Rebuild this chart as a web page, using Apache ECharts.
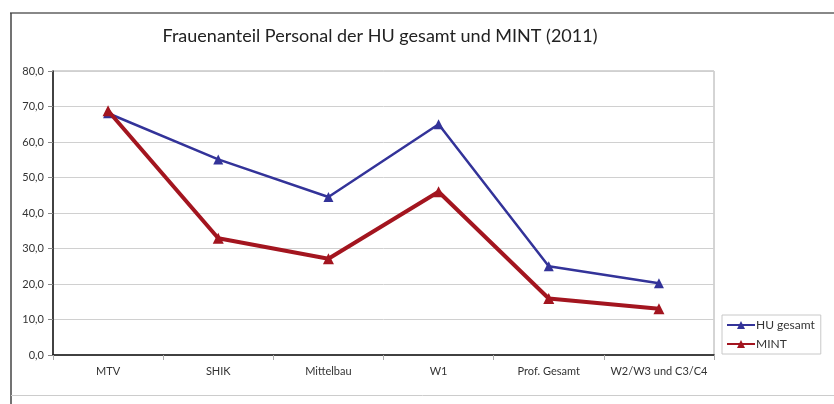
<!DOCTYPE html>
<html>
<head>
<meta charset="utf-8">
<script src="https://cdn.jsdelivr.net/npm/echarts@6/dist/echarts.min.js"></script>
<style>
html,body{margin:0;padding:0;background:#fff;}
#c{width:834px;height:404px;}
</style>
</head>
<body>
<div id="c"></div>
<script>
const categories = ['MTV', 'SHIK', 'Mittelbau', 'W1', 'Prof. Gesamt', 'W2/W3 und C3/C4'];
const huGesamt = [68.1, 55.1, 44.5, 65.0, 25.0, 20.2];
const mint = [68.8, 32.9, 27.1, 46.0, 15.9, 13.0];
const yTicks = { min: 0, max: 80, interval: 10 };

const chart = echarts.init(document.getElementById('c'));
const FONT = 'Lato';
chart.setOption({
  backgroundColor: '#fff',
  animation: false,
  textStyle: { fontFamily: FONT },
  title: {
    text: 'Frauenanteil Personal der HU gesamt und MINT (2011)',
    left: 375, top: 22, textAlign: 'center',
    textStyle: { fontFamily: FONT, fontSize: 18, fontWeight: 'normal', color: '#222' }
  },
  graphic: [
    { type: 'line', shape: { x1: 10, y1: 13, x2: 834, y2: 13 }, style: { stroke: '#888', lineWidth: 2 } },
    { type: 'line', shape: { x1: 11, y1: 13, x2: 11, y2: 404 }, style: { stroke: '#444', lineWidth: 1.5 } },
    { type: 'line', shape: { x1: 11, y1: 395.5, x2: 834, y2: 395.5 }, style: { stroke: '#ccc', lineWidth: 1 } }
  ],
  legend: {
    orient: 'vertical',
    left: 722, top: 315,
    padding: [4, 6, 4, 4],
    borderColor: '#c8c8c8', borderWidth: 1,
    itemWidth: 28, itemHeight: 10, itemGap: 7,
    textStyle: { fontFamily: FONT, fontSize: 12, color: '#333', padding: [0, 0, 0, -4] },
    data: ['HU gesamt', 'MINT']
  },
  grid: { left: 53, right: 120, top: 71, bottom: 49, show: true, borderColor: '#aaa', borderWidth: 1 },
  xAxis: {
    type: 'category',
    data: categories,
    boundaryGap: true,
    axisLine: { lineStyle: { color: '#111', width: 1.5 } },
    axisTick: { show: true, alignWithLabel: false, length: 5, lineStyle: { color: '#aaa' } },
    axisLabel: { fontFamily: FONT, fontSize: 11, color: '#333', margin: 11, interval: 0 }
  },
  yAxis: {
    type: 'value',
    min: yTicks.min, max: yTicks.max, interval: yTicks.interval,
    axisLine: { show: true, lineStyle: { color: '#111', width: 1.5 } },
    axisTick: { show: true, length: 5, lineStyle: { color: '#888' } },
    splitLine: { lineStyle: { color: '#d0d0d0', width: 1 } },
    axisLabel: {
      fontFamily: FONT, fontSize: 11, color: '#333', margin: 9,
      formatter: v => v.toFixed(1).replace('.', ',')
    }
  },
  series: [
    {
      name: 'HU gesamt', type: 'line', data: huGesamt,
      symbol: 'triangle', symbolSize: 10,
      itemStyle: { color: '#333399' },
      lineStyle: { color: '#333399', width: 2.5 },
      z: 3
    },
    {
      name: 'MINT', type: 'line', data: mint,
      symbol: 'triangle', symbolSize: 11,
      itemStyle: { color: '#A3151F' },
      lineStyle: { color: '#A3151F', width: 4 },
      z: 4
    }
  ]
});
</script>
</body>
</html>
